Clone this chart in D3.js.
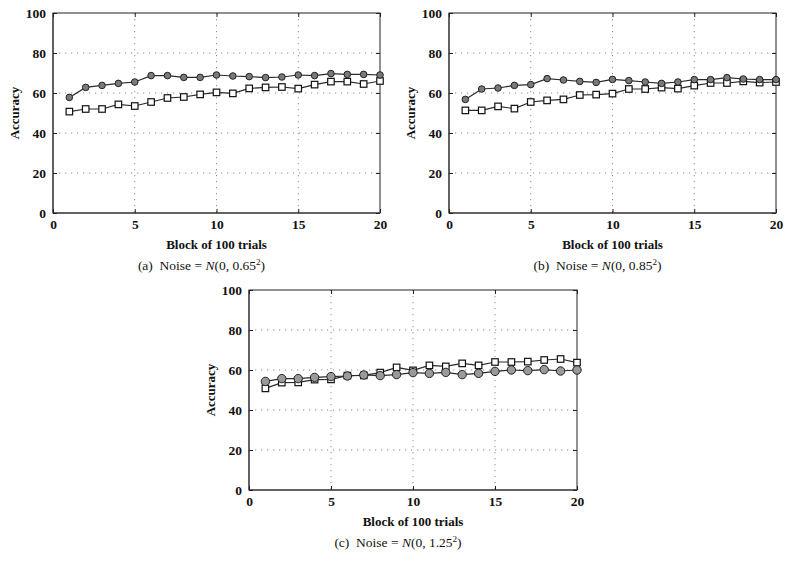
<!DOCTYPE html>
<html>
<head>
<meta charset="utf-8">
<script src="https://cdn.jsdelivr.net/npm/d3@7"></script>
<style>
  body { margin: 0; background: #fff; }
  svg { display: block; font-family: "Liberation Serif", "DejaVu Serif", serif; }
</style>
</head>
<body>
<div id="chart"></div>
<script>
// du lieu doc tu hinh
const blocks = [1, 2, 3, 4, 5, 6, 7, 8, 9, 10, 11, 12, 13, 14, 15, 16, 17, 18, 19, 20];

const circleA = [57.8, 62.8, 63.8, 64.8, 65.5, 68.7, 68.7, 67.8, 67.8, 69, 68.5, 68.2, 67.7, 68, 69, 68.7, 69.7, 69.3, 69.3, 69];
const squareA = [50.7, 52, 52, 54.3, 53.5, 55.5, 57.5, 58, 59.3, 60.3, 59.8, 62.3, 62.8, 63, 62.2, 64.2, 65.7, 65.7, 64.5, 66];

const circleB = [56.8, 62, 62.5, 63.8, 64.2, 67.2, 66.5, 65.8, 65.3, 66.8, 66.2, 65.5, 64.8, 65.5, 66.7, 66.7, 67.7, 67, 66.7, 66.7];
const squareB = [51.3, 51.3, 53.3, 52.2, 55.5, 56.3, 56.8, 59, 59.2, 59.7, 62, 62, 62.7, 62.2, 63.7, 65, 65, 65.8, 65.2, 65.5];

const circleC = [54.3, 55.7, 55.7, 56.3, 56.7, 57, 57.5, 57.2, 57.7, 58.7, 58.3, 58.8, 57.7, 58.3, 59.3, 60, 59.7, 60.2, 59.5, 60];
const squareC = [50.8, 53.7, 53.8, 55.2, 55.3, 57.2, 57.3, 58.7, 61.3, 59.8, 62.3, 61.8, 63.3, 62.3, 64, 64, 64.2, 65, 65.5, 63.7];

const xTicks = [0, 5, 10, 15, 20];
const yTicks = [0, 20, 40, 60, 80, 100];

const xTitle = "Block of 100 trials";
const yTitle = "Accuracy";

const W = 789, H = 569;

const svg = d3.select("#chart").append("svg")
    .attr("width", W)
    .attr("height", H);

// ve mot khung bieu do
function drawPanel(opt) {
    const { left, top, width, height } = opt;

    const x = d3.scaleLinear().domain([0, 20]).range([left, left + width]);
    const y = d3.scaleLinear().domain([0, 100]).range([top + height, top]);

    const g = svg.append("g");

    // luoi cham
    g.selectAll(".gx")
        .data(xTicks.filter(d => d > 0 && d < 20))
        .enter().append("line")
        .attr("x1", d => x(d)).attr("x2", d => x(d))
        .attr("y1", top).attr("y2", top + height)
        .attr("stroke", "#8a8a8a")
        .attr("stroke-width", 1)
        .attr("stroke-dasharray", "1.2,4.8");

    g.selectAll(".gy")
        .data(yTicks.filter(d => d > 0 && d < 100))
        .enter().append("line")
        .attr("x1", left).attr("x2", left + width)
        .attr("y1", d => y(d)).attr("y2", d => y(d))
        .attr("stroke", "#8a8a8a")
        .attr("stroke-width", 1)
        .attr("stroke-dasharray", "1.2,4.8");

    // khung
    g.append("rect")
        .attr("x", left).attr("y", top)
        .attr("width", width).attr("height", height)
        .attr("fill", "none")
        .attr("stroke", "#222")
        .attr("stroke-width", 1);

    // truc trai va duoi dam hon
    g.append("line")
        .attr("x1", left).attr("x2", left)
        .attr("y1", top).attr("y2", top + height)
        .attr("stroke", "#555").attr("stroke-width", 1.6);
    g.append("line")
        .attr("x1", left).attr("x2", left + width)
        .attr("y1", top + height).attr("y2", top + height)
        .attr("stroke", "#555").attr("stroke-width", 1.6);

    // truc x
    const axB = g.append("g")
        .attr("transform", `translate(0,${top + height})`)
        .call(d3.axisBottom(x).tickValues(xTicks).tickSizeInner(-4).tickSizeOuter(0).tickPadding(6));
    const axT = g.append("g")
        .attr("transform", `translate(0,${top})`)
        .call(d3.axisTop(x).tickValues(xTicks).tickSizeInner(-4).tickSizeOuter(0).tickFormat(""));

    // truc y
    const axL = g.append("g")
        .attr("transform", `translate(${left},0)`)
        .call(d3.axisLeft(y).tickValues(yTicks).tickSizeInner(-4).tickSizeOuter(0).tickPadding(7));
    const axR = g.append("g")
        .attr("transform", `translate(${left + width},0)`)
        .call(d3.axisRight(y).tickValues(yTicks).tickSizeInner(-4).tickSizeOuter(0).tickFormat(""));

    [axB, axT, axL, axR].forEach(a => {
        a.select(".domain").remove();
        a.selectAll(".tick line").attr("stroke", "#222");
    });
    [axB, axL].forEach(a => {
        a.selectAll("text")
            .attr("fill", "#111")
            .style("font-family", "Liberation Serif, serif")
            .style("font-weight", "bold")
            .style("font-size", "13.5px");
    });

    // duong
    const line = d3.line()
        .x((d, i) => x(blocks[i]))
        .y(d => y(d));

    [opt.squares, opt.circles].forEach(s => {
        g.append("path")
            .datum(s)
            .attr("d", line)
            .attr("fill", "none")
            .attr("stroke", "#2a2a2a")
            .attr("stroke-width", 1.2);
    });

    // diem vuong
    const sq = 6.5;
    g.selectAll(".sq")
        .data(opt.squares)
        .enter().append("rect")
        .attr("x", (d, i) => x(blocks[i]) - sq / 2)
        .attr("y", d => y(d) - sq / 2)
        .attr("width", sq).attr("height", sq)
        .attr("fill", "#fff")
        .attr("stroke", "#111")
        .attr("stroke-width", 1.2);

    // diem tron
    g.selectAll(".ci")
        .data(opt.circles)
        .enter().append("circle")
        .attr("cx", (d, i) => x(blocks[i]))
        .attr("cy", d => y(d))
        .attr("r", opt.r)
        .attr("fill", opt.circleFill)
        .attr("stroke", "#222")
        .attr("stroke-width", 1);

    // nhan truc
    g.append("text")
        .attr("x", left + width / 2)
        .attr("y", top + height + 36)
        .attr("text-anchor", "middle")
        .style("font-weight", "bold")
        .style("font-size", "13px")
        .attr("fill", "#111")
        .text(xTitle);

    g.append("text")
        .attr("transform", `translate(${left - 39},${top + height / 2}) rotate(-90)`)
        .attr("text-anchor", "middle")
        .attr("dy", "0.35em")
        .style("font-weight", "bold")
        .style("font-size", "13px")
        .attr("fill", "#111")
        .text(yTitle);

    // chu thich
    const cap = g.append("text")
        .attr("x", left + width / 2 - 15)
        .attr("y", top + height + 57)
        .attr("text-anchor", "middle")
        .style("font-size", "13.5px")
        .attr("fill", "#111");
    cap.append("tspan").text(`(${opt.tag})\u00a0\u00a0Noise = `);
    cap.append("tspan").style("font-style", "italic").text("N");
    cap.append("tspan").text(`(0, ${opt.sd}`);
    cap.append("tspan").attr("dy", -5).style("font-size", "9px").text("2");
    cap.append("tspan").attr("dy", 5).text(")");
}

drawPanel({ left: 53, top: 13, width: 327, height: 200, circles: circleA, squares: squareA,
    r: 3.3, circleFill: "#7a7a7a", tag: "a", sd: "0.65" });
drawPanel({ left: 449, top: 13, width: 327, height: 200, circles: circleB, squares: squareB,
    r: 3.3, circleFill: "#7a7a7a", tag: "b", sd: "0.85" });
drawPanel({ left: 249, top: 290, width: 328, height: 200, circles: circleC, squares: squareC,
    r: 4.2, circleFill: "#9a9a9a", tag: "c", sd: "1.25" });
</script>
</body>
</html>
